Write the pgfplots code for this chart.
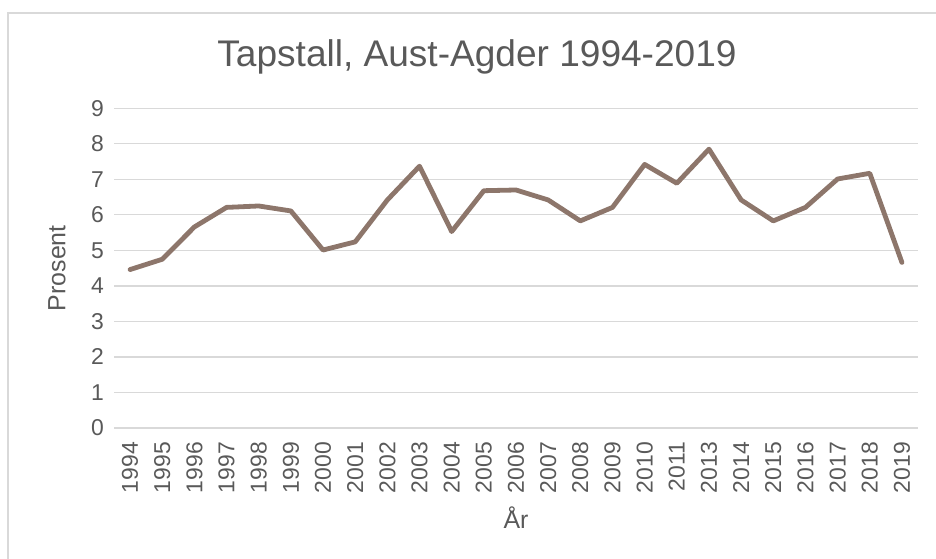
\documentclass[border=0pt]{standalone}
\usepackage{fontspec}
\setmainfont{Liberation Sans}
\usepackage{pgfplots}
\pgfplotsset{compat=1.18}
\definecolor{linebrown}{RGB}{141,118,107}
\definecolor{gridgray}{RGB}{217,217,217}
\definecolor{textgray}{RGB}{89,89,89}
\begin{document}
\begin{tikzpicture}[x=1bp,y=1bp]
\useasboundingbox (0,0) rectangle (936,559);
\draw[gridgray, line width=1.2bp] (8,-10) -- (8,546) -- (950,546);
\begin{axis}[
  at={(114bp,131bp)}, anchor=south west,
  width=804bp, height=319.7bp, scale only axis,
  xmin=-0.5, xmax=24.5, ymin=0, ymax=9,
  ytick={0,1,...,9},
  xtick={0,1,...,24},
  xticklabels={1994,1995,1996,1997,1998,1999,2000,2001,2002,2003,2004,2005,2006,2007,2008,2009,2010,2011,2013,2014,2015,2016,2017,2018,2019},
  axis line style={draw=none},
  major tick length=0pt,
  ymajorgrids, grid style={gridgray, line width=1.2bp},
  /pgf/number format/assume math mode=true,
  tick label style={font=\fontsize{23}{27}\selectfont, text=textgray},
  yticklabel style={anchor=east, inner sep=0pt},
  yticklabel shift=10bp,
  xticklabel style={rotate=90, anchor=east, inner sep=0pt},
  xticklabel shift=14bp,
  title={Tapstall, Aust-Agder 1994-2019},
  title style={font=\fontsize{37.2}{41}\selectfont, text=textgray, anchor=base, at={(axis description cs:0.5,1)}, yshift=36bp, xshift=-39bp, inner sep=0pt},
  xlabel={År},
  xlabel style={font=\fontsize{25}{29}\selectfont, text=textgray, anchor=center, at={(axis description cs:0.5,-0.2815)}},
  ylabel={Prosent},
  ylabel style={font=\fontsize{25}{29}\selectfont, text=textgray, anchor=center, at={(axis description cs:-0.0709,0.5)}},
  clip=false,
]
\addplot[linebrown, line width=4.8bp, line join=round, line cap=round] coordinates {
(0,4.46) (1,4.75) (2,5.66) (3,6.21) (4,6.25) (5,6.11) (6,5.01) (7,5.24)
(8,6.42) (9,7.37) (10,5.53) (11,6.68) (12,6.70) (13,6.42) (14,5.83) (15,6.21)
(16,7.42) (17,6.89) (18,7.85) (19,6.42) (20,5.83) (21,6.21) (22,7.01) (23,7.17) (24,4.66)
};
\end{axis}
\end{tikzpicture}
\end{document}
